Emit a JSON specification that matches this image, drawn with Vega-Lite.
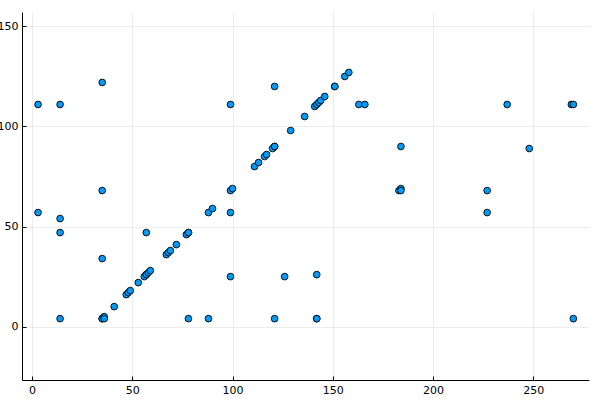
{
  "$schema": "https://vega.github.io/schema/vega-lite/v6.json",
  "autosize": "none",
  "padding": {"left": 22, "top": 12, "right": 11, "bottom": 20},
  "width": 567,
  "height": 368,
  "background": "white",
  "config": {
    "view": {"stroke": null},
    "axis": {
      "labelFont": "DejaVu Sans",
      "labelFontSize": 11,
      "labelColor": "#000000",
      "domainColor": "#000000",
      "domainWidth": 1,
      "tickColor": "#000000",
      "tickWidth": 1,
      "tickSize": -4,
      "gridColor": "#000000",
      "gridOpacity": 0.07,
      "gridWidth": 1,
      "title": null
    }
  },
  "data": {
    "values": [
      {"x": 3, "y": 111}, {"x": 14, "y": 111}, {"x": 35, "y": 122}, {"x": 35, "y": 68},
      {"x": 3, "y": 57}, {"x": 14, "y": 54}, {"x": 14, "y": 47}, {"x": 35, "y": 34},
      {"x": 14, "y": 4}, {"x": 35, "y": 4}, {"x": 35, "y": 4}, {"x": 36, "y": 5},
      {"x": 36, "y": 4}, {"x": 41, "y": 10}, {"x": 47, "y": 16}, {"x": 48, "y": 17},
      {"x": 49, "y": 18}, {"x": 53, "y": 22}, {"x": 56, "y": 25}, {"x": 57, "y": 26},
      {"x": 57, "y": 26}, {"x": 58, "y": 27}, {"x": 59, "y": 28}, {"x": 57, "y": 47},
      {"x": 67, "y": 36}, {"x": 68, "y": 37}, {"x": 69, "y": 38}, {"x": 72, "y": 41},
      {"x": 77, "y": 46}, {"x": 78, "y": 47}, {"x": 78, "y": 47}, {"x": 78, "y": 4},
      {"x": 88, "y": 57}, {"x": 90, "y": 59}, {"x": 99, "y": 57}, {"x": 99, "y": 25},
      {"x": 126, "y": 25}, {"x": 142, "y": 26}, {"x": 88, "y": 4}, {"x": 121, "y": 4},
      {"x": 142, "y": 4}, {"x": 142, "y": 4}, {"x": 99, "y": 111}, {"x": 121, "y": 120},
      {"x": 129, "y": 98}, {"x": 136, "y": 105}, {"x": 141, "y": 110}, {"x": 142, "y": 111},
      {"x": 143, "y": 112}, {"x": 144, "y": 113}, {"x": 146, "y": 115}, {"x": 151, "y": 120},
      {"x": 151, "y": 120}, {"x": 156, "y": 125}, {"x": 158, "y": 127}, {"x": 163, "y": 111},
      {"x": 166, "y": 111}, {"x": 111, "y": 80}, {"x": 113, "y": 82}, {"x": 116, "y": 85},
      {"x": 117, "y": 86}, {"x": 120, "y": 89}, {"x": 121, "y": 90}, {"x": 121, "y": 90},
      {"x": 99, "y": 68}, {"x": 100, "y": 69}, {"x": 184, "y": 90}, {"x": 183, "y": 68},
      {"x": 184, "y": 69}, {"x": 184, "y": 68}, {"x": 227, "y": 68}, {"x": 227, "y": 57},
      {"x": 237, "y": 111}, {"x": 248, "y": 89}, {"x": 269, "y": 111}, {"x": 270, "y": 111},
      {"x": 270, "y": 4}
    ]
  },
  "mark": {
    "type": "point",
    "shape": "circle",
    "filled": true,
    "fill": "#009AF9",
    "stroke": "#000000",
    "strokeWidth": 1,
    "strokeOpacity": 0.9,
    "fillOpacity": 1,
    "size": 45
  },
  "encoding": {
    "x": {
      "field": "x",
      "type": "quantitative",
      "scale": {"domain": [-5, 277.8], "nice": false, "zero": false},
      "axis": {"values": [0, 50, 100, 150, 200, 250], "labelPadding": 8}
    },
    "y": {
      "field": "y",
      "type": "quantitative",
      "scale": {"domain": [-26.65, 157.2], "nice": false, "zero": false},
      "axis": {"values": [0, 50, 100, 150], "labelPadding": 8}
    }
  }
}
